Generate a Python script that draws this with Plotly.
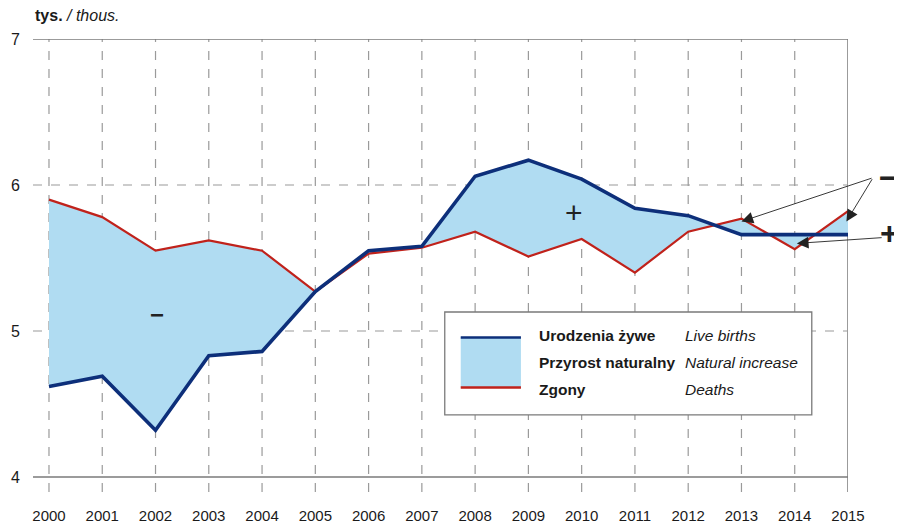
import plotly.graph_objects as go

years = list(range(2000, 2016))
births = [4.62, 4.69, 4.32, 4.83, 4.86, 5.27, 5.55, 5.58, 6.06, 6.17, 6.04, 5.84, 5.79, 5.66, 5.66, 5.66]
deaths = [5.90, 5.78, 5.55, 5.62, 5.55, 5.27, 5.53, 5.57, 5.68, 5.51, 5.63, 5.40, 5.68, 5.77, 5.56, 5.82]
y_ticks = [4, 5, 6, 7]
x_tick_labels = [str(y) for y in years]

BLUE = "#0d2f7a"
RED = "#c0221b"
FILL = "#b0dcf2"
GRID = "#9a9a9a"
AXIS = "#7a7a7a"
FONT = "Liberation Sans, Arial, sans-serif"

XMIN, XMAX = 1999.7, 2015.0
YMIN, YMAX = 3.897, 7.0

fig = go.Figure()
fig.add_trace(go.Scatter(x=years, y=births, mode="lines", line=dict(width=0), hoverinfo="skip", showlegend=False))
fig.add_trace(go.Scatter(x=years, y=deaths, mode="lines", line=dict(width=0), fill="tonexty",
                         fillcolor=FILL, hoverinfo="skip", showlegend=False))
fig.add_trace(go.Scatter(x=years, y=deaths, mode="lines", line=dict(color=RED, width=2.2), showlegend=False))
fig.add_trace(go.Scatter(x=years, y=births, mode="lines", line=dict(color=BLUE, width=3.6), showlegend=False))

shapes = []
for yr in years[:-1]:
    shapes.append(dict(type="line", xref="x", yref="y", x0=yr, x1=yr, y0=YMIN, y1=YMAX,
                       line=dict(color=GRID, width=1.2, dash="dash"), layer="below"))
shapes.append(dict(type="line", xref="x", yref="y", x0=2015, x1=2015, y0=YMIN, y1=YMAX,
                   line=dict(color=AXIS, width=1.5), layer="below"))
for v in y_ticks:
    solid = v in (4, 7)
    shapes.append(dict(type="line", xref="x", yref="y", x0=XMIN, x1=2015, y0=v, y1=v,
                       line=dict(color=AXIS if solid else GRID, width=1.4 if solid else 1.2,
                                 dash="solid" if solid else "dash"), layer="below"))
# legend box
shapes.append(dict(type="rect", xref="x", yref="y", x0=2007.43, x1=2014.32, y0=4.425, y1=5.13,
                   line=dict(color=AXIS, width=1.3), fillcolor="white", layer="below"))
shapes.append(dict(type="rect", xref="x", yref="y", x0=2007.73, x1=2008.86, y0=4.61, y1=4.959,
                   line=dict(width=0), fillcolor=FILL, layer="above"))
shapes.append(dict(type="line", xref="x", yref="y", x0=2007.73, x1=2008.86, y0=4.955, y1=4.955,
                   line=dict(color=BLUE, width=2.5), layer="above"))
shapes.append(dict(type="line", xref="x", yref="y", x0=2007.73, x1=2008.86, y0=4.612, y1=4.612,
                   line=dict(color=RED, width=2.5), layer="above"))

ann = []
legend_rows = [("Urodzenia żywe", "Live births", 4.966),
               ("Przyrost naturalny", "Natural increase", 4.781),
               ("Zgony", "Deaths", 4.596)]
for pl, en, yy in legend_rows:
    ann.append(dict(x=2009.16, y=yy, xref="x", yref="y", text="<b>%s</b>" % pl, showarrow=False,
                    xanchor="left", yanchor="middle", font=dict(family=FONT, size=15.5, color="#1a1a1a")))
    ann.append(dict(x=2011.9, y=yy, xref="x", yref="y", text="<i>%s</i>" % en, showarrow=False,
                    xanchor="left", yanchor="middle", font=dict(family=FONT, size=15.5, color="#1a1a1a")))

ann.append(dict(x=0, y=1, xref="paper", yref="paper", xanchor="left", yanchor="bottom", yshift=13,
                text="<b>tys.</b> <i>/ thous.</i>", showarrow=False,
                font=dict(family=FONT, size=16, color="#1a1a1a")))
ann.append(dict(x=2002.03, y=5.11, xref="x", yref="y", text="<b>−</b>", showarrow=False,
                font=dict(family=FONT, size=24, color="#222")))
ann.append(dict(x=2009.86, y=5.81, xref="x", yref="y", text="+", showarrow=False,
                font=dict(family=FONT, size=30, color="#222")))
ann.append(dict(x=1.0638, y=0.737, xref="paper", yref="paper", xanchor="right", text="<b>−</b>",
                showarrow=False, font=dict(family=FONT, size=32, color="#222")))
ann.append(dict(x=1.0650, y=0.572, xref="paper", yref="paper", xanchor="right", text="<b>+</b>",
                showarrow=False, font=dict(family=FONT, size=32, color="#222")))
for hx, hy, tx, ty in [(2013.0, 5.75, 2015.47, 6.05), (2014.97, 5.75, 2015.47, 6.05),
                       (2014.04, 5.60, 2015.66, 5.64)]:
    ann.append(dict(x=hx, y=hy, ax=tx, ay=ty, xref="x", yref="y", axref="x", ayref="y",
                    text="", showarrow=True, arrowhead=2, arrowsize=2.6, arrowwidth=0.9,
                    arrowcolor="#222"))

# page body has an 8px default margin, so the figure is 8px smaller than the window
fig.update_layout(
    width=894, height=516,
    margin=dict(l=25, r=54, t=31, b=32, autoexpand=False),
    paper_bgcolor="white", plot_bgcolor="white",
    shapes=shapes, annotations=ann,
    xaxis=dict(range=[XMIN, XMAX], showgrid=False, zeroline=False, showline=False, automargin=False,
               tickvals=years, ticktext=x_tick_labels, ticks="", ticklabelstandoff=13,
               tickfont=dict(family=FONT, size=15, color="#1a1a1a"), fixedrange=True),
    yaxis=dict(range=[YMIN, YMAX], showgrid=False, zeroline=False, showline=False, automargin=False,
               tickvals=y_ticks, ticktext=[str(v) for v in y_ticks], ticks="",
               ticklabelstandoff=12,
               tickfont=dict(family=FONT, size=16, color="#1a1a1a"), fixedrange=True),
    showlegend=False,
)

fig.write_html("out.html")
